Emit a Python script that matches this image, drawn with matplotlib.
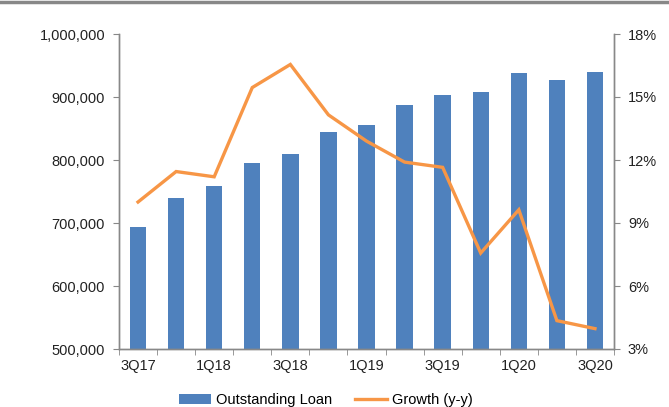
import matplotlib.pyplot as plt
import matplotlib.ticker as mticker
import numpy as np

plt.rcParams['font.family'] = ['Liberation Sans', 'DejaVu Sans']

# datos
quarters = ['3Q17', '4Q17', '1Q18', '2Q18', '3Q18', '4Q18', '1Q19',
            '2Q19', '3Q19', '4Q19', '1Q20', '2Q20', '3Q20']
loan = [694000, 740000, 758000, 795000, 810000, 844000, 855000,
        888000, 903000, 908000, 938000, 927000, 940000]
growth = [10.0, 11.45, 11.2, 15.45, 16.55, 14.15, 12.9,
          11.9, 11.65, 7.57, 9.63, 4.35, 3.97]

fig = plt.figure(figsize=(6.69, 4.07), dpi=100)
ax = fig.add_axes([119/669, 1 - 349/407, 495/669, 315/407])
x = np.arange(len(quarters))

ax.bar(x, loan, width=0.43, color='#4F81BD', label='Outstanding Loan', zorder=2)
ax.set_ylim(500000, 1000000)
ax.set_xlim(-0.5, len(quarters) - 0.5)
ax.yaxis.set_major_locator(mticker.MultipleLocator(100000))
ax.yaxis.set_major_formatter(mticker.FuncFormatter(lambda v, p: f'{int(v):,}'))

# ticks en los limites de categoria, etiquetas cada dos trimestres
ax.set_xticks(x[::2])
ax.set_xticklabels(quarters[::2])
ax.set_xticks(np.arange(-0.5, len(quarters)), minor=True)
ax.tick_params(axis='x', which='major', length=0, pad=7)
ax.tick_params(axis='x', which='minor', length=4, color='#888888')
ax.tick_params(axis='y', length=4, color='#888888', pad=6)
ax.tick_params(labelsize=10.5, labelcolor='#222222')

ax2 = ax.twinx()
ax2.plot(x, growth, color='#F79646', lw=2.4, label='Growth (y-y)',
         solid_joinstyle='miter')
ax2.set_ylim(3, 18)
ax2.yaxis.set_major_locator(mticker.MultipleLocator(3))
ax2.yaxis.set_major_formatter(mticker.FuncFormatter(lambda v, p: f'{int(v)}%'))
ax2.tick_params(axis='y', length=4, color='#888888', pad=6,
                labelsize=10.5, labelcolor='#222222')

for a in (ax, ax2):
    a.spines['top'].set_visible(False)
    for s in ('left', 'right', 'bottom'):
        a.spines[s].set_color('#888888')
        a.spines[s].set_linewidth(1.0)

h1, l1 = ax.get_legend_handles_labels()
h2, l2 = ax2.get_legend_handles_labels()
fig.legend(h1 + h2, l1 + l2, loc='center', bbox_to_anchor=(0.487, 0.017),
           ncol=2, frameon=False, fontsize=10.5, handlelength=2.2,
           handletextpad=0.35, columnspacing=1.6)

# linea gris superior
fig.add_artist(plt.Line2D([0, 1], [0.996, 0.996], color='#888888', lw=2.5,
                          transform=fig.transFigure))

fig.savefig('out.png', dpi=100)
